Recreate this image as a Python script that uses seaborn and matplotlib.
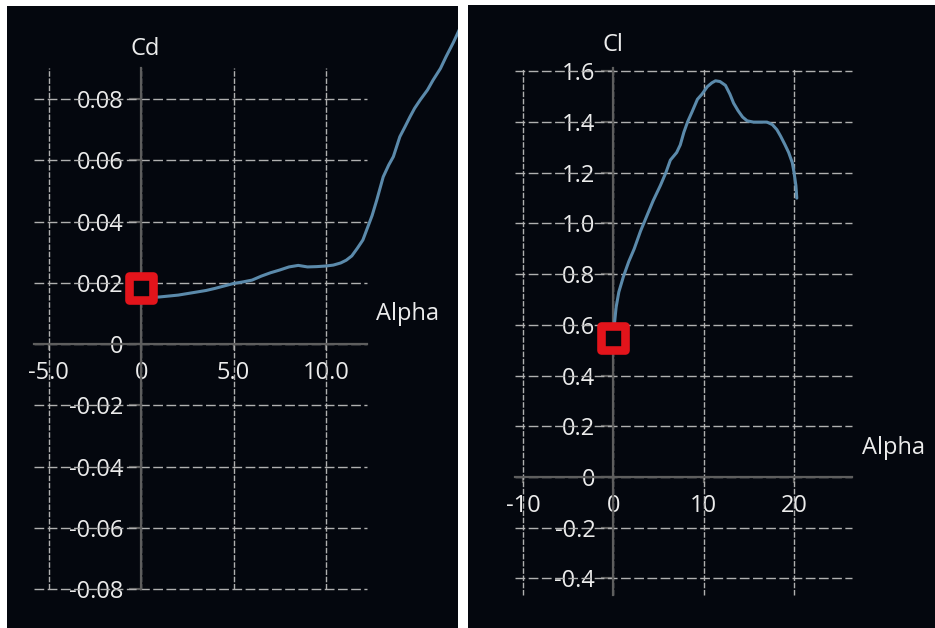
import matplotlib
matplotlib.use("Agg")
import matplotlib.pyplot as plt
import seaborn as sns
import pandas as pd

# Drag coefficient polar: angle of attack (deg) vs Cd
cd_alpha = [0.0, 0.5, 1.0, 1.5, 2.0, 2.5, 3.0, 3.5, 4.0, 4.5, 5.0, 5.5, 6.0, 6.5,
            7.0, 7.5, 8.0, 8.5, 9.0, 9.5, 10.0, 10.4, 10.8, 11.1, 11.4, 11.7,
            12.0, 12.2, 12.5, 12.75, 13.1, 13.4, 13.65, 14.0, 14.3, 14.55, 14.8,
            15.1, 15.5, 15.8, 16.2, 16.5, 16.9, 17.4]
cd_values = [0.0150, 0.0152, 0.0154, 0.0157, 0.0160, 0.0165, 0.0170, 0.0175,
             0.0182, 0.0190, 0.0198, 0.0203, 0.0209, 0.0222, 0.0233, 0.0242,
             0.0252, 0.0257, 0.0252, 0.0253, 0.0255, 0.0258, 0.0265, 0.0274,
             0.0288, 0.0313, 0.0340, 0.0372, 0.0420, 0.0470, 0.0546, 0.0585,
             0.0612, 0.0677, 0.0712, 0.0742, 0.0770, 0.0797, 0.0830, 0.0862,
             0.0900, 0.0938, 0.0985, 0.1050]

# Lift coefficient curve: angle of attack (deg) vs Cl
cl_alpha = [0.0, 0.1, 0.3, 0.6, 1.1, 1.7, 2.3, 3.0, 3.7, 4.4, 5.2, 5.8, 6.3,
            7.0, 7.4, 7.8, 8.2, 8.7, 9.3, 9.8, 10.4, 10.9, 11.3, 11.8, 12.4,
            12.9, 13.3, 13.8, 14.3, 14.8, 15.5, 16.3, 17.0, 17.6, 18.1, 18.5,
            19.0, 19.4, 19.8, 20.0, 20.2, 20.3]
cl_values = [0.55, 0.60, 0.67, 0.73, 0.79, 0.85, 0.90, 0.97, 1.03, 1.09, 1.15,
             1.20, 1.25, 1.28, 1.31, 1.36, 1.40, 1.44, 1.49, 1.51, 1.54, 1.555,
             1.563, 1.56, 1.545, 1.51, 1.475, 1.445, 1.42, 1.405, 1.40, 1.40,
             1.40, 1.39, 1.37, 1.345, 1.31, 1.28, 1.24, 1.20, 1.15, 1.10]

# Highlighted operating point on each curve
cd_point = ([0.0], [0.0183])
cl_point = ([0.0], [0.55])

# Axis ticks and their labels
cd_xticks = [-5.0, 0.0, 5.0, 10.0]
cd_xlabels = ["-5.0", "0", "5.0", "10.0"]
cd_yticks = [0.08, 0.06, 0.04, 0.02, 0.0, -0.02, -0.04, -0.06, -0.08]
cd_ylabels = ["0.08", "0.06", "0.04", "0.02", "0", "-0.02", "-0.04", "-0.06", "-0.08"]

cl_xticks = [-10, 0, 10, 20]
cl_xlabels = ["-10", "0", "10", "20"]
cl_yticks = [1.6, 1.4, 1.2, 1.0, 0.8, 0.6, 0.4, 0.2, 0.0, -0.2, -0.4]
cl_ylabels = ["1.6", "1.4", "1.2", "1.0", "0.8", "0.6", "0.4", "0.2", "0", "-0.2", "-0.4"]

sns.set_theme(style="dark")
plt.rcParams["font.family"] = ["Open Sans", "DejaVu Sans"]
plt.rcParams["axes.unicode_minus"] = False

BG = "#04070e"
GRID = "#b0b0b0"
AXIS = "#5e5e5e"
TEXT = "#ececec"
LINE = "#5b8aab"
RED = "#e3141b"
FS = 17

W, H = 935, 628
fig = plt.figure(figsize=(W / 100, H / 100), dpi=100, facecolor="white")
ax_cd = fig.add_axes([7 / W, 0, 451 / W, 622 / H])
ax_cl = fig.add_axes([468 / W, 0, 467 / W, 623 / H])


def style_panel(ax, xlim, ylim, xticks, xlabels, yticks, ylabels, hspan, vspan):
    ax.set_facecolor(BG)
    ax.grid(False)
    ax.set_xlim(*xlim)
    ax.set_ylim(*ylim)
    ax.hlines(yticks, hspan[0], hspan[1], colors=GRID, linewidth=1.0,
              linestyles=(0, (7, 2.5)), zorder=1)
    ax.vlines(xticks, vspan[0], vspan[1], colors=GRID, linewidth=1.0,
              linestyles=(0, (4, 1.2)), zorder=1)
    for side in ("top", "right"):
        ax.spines[side].set_visible(False)
    ax.spines["left"].set_position(("data", 0))
    ax.spines["bottom"].set_position(("data", 0))
    ax.spines["left"].set_bounds(*vspan)
    ax.spines["bottom"].set_bounds(*hspan)
    for side in ("left", "bottom"):
        ax.spines[side].set_color(AXIS)
        ax.spines[side].set_linewidth(1.6)
        ax.spines[side].set_zorder(2)
    ax.set_xticks(xticks, xlabels)
    ax.set_yticks(yticks, ylabels)
    ax.tick_params(axis="y", direction="out", length=9, width=1.6, color=AXIS,
                   pad=4, labelsize=FS, labelcolor=TEXT, left=True)
    ax.tick_params(axis="x", direction="out", length=4, width=1.6, color=AXIS,
                   pad=8, labelsize=FS, labelcolor=TEXT, bottom=True)
    ax.set_xlabel("")
    ax.set_ylabel("")


def draw_curve(ax, x, y, point):
    df = pd.DataFrame({"alpha": x, "coef": y})
    sns.lineplot(data=df, x="alpha", y="coef", ax=ax, color=LINE, linewidth=2.2,
                 sort=False, estimator=None, zorder=3)
    sns.scatterplot(x=point[0], y=point[1], ax=ax, marker="s", s=290,
                    color=BG, edgecolor=RED, linewidth=6.2, zorder=5)
    ax.collections[-1].set_joinstyle("round")


# Left panel: Cd
draw_curve(ax_cd, cd_alpha, cd_values, cd_point)
style_panel(ax_cd, (-7.27, 17.15), (-0.0927, 0.1104), cd_xticks, cd_xlabels,
            cd_yticks, cd_ylabels, (-5.8, 12.2), (-0.08, 0.090))
ax_cd.text(0.2, 0.0963, "Cd", color=TEXT, fontsize=FS, ha="center", va="center")
ax_cd.text(14.44, 0.0098, "Alpha", color=TEXT, fontsize=FS, ha="center", va="center")

# Right panel: Cl
draw_curve(ax_cl, cl_alpha, cl_values, cl_point)
style_panel(ax_cl, (-16.1, 35.6), (-0.596, 1.862), cl_xticks, cl_xlabels,
            cl_yticks, cl_ylabels, (-10.9, 26.4), (-0.465, 1.613))
ax_cl.text(0.0, 1.704, "Cl", color=TEXT, fontsize=FS, ha="center", va="center")
ax_cl.text(30.97, 0.114, "Alpha", color=TEXT, fontsize=FS, ha="center", va="center")

fig.savefig("out.png", dpi=100, facecolor="white")
